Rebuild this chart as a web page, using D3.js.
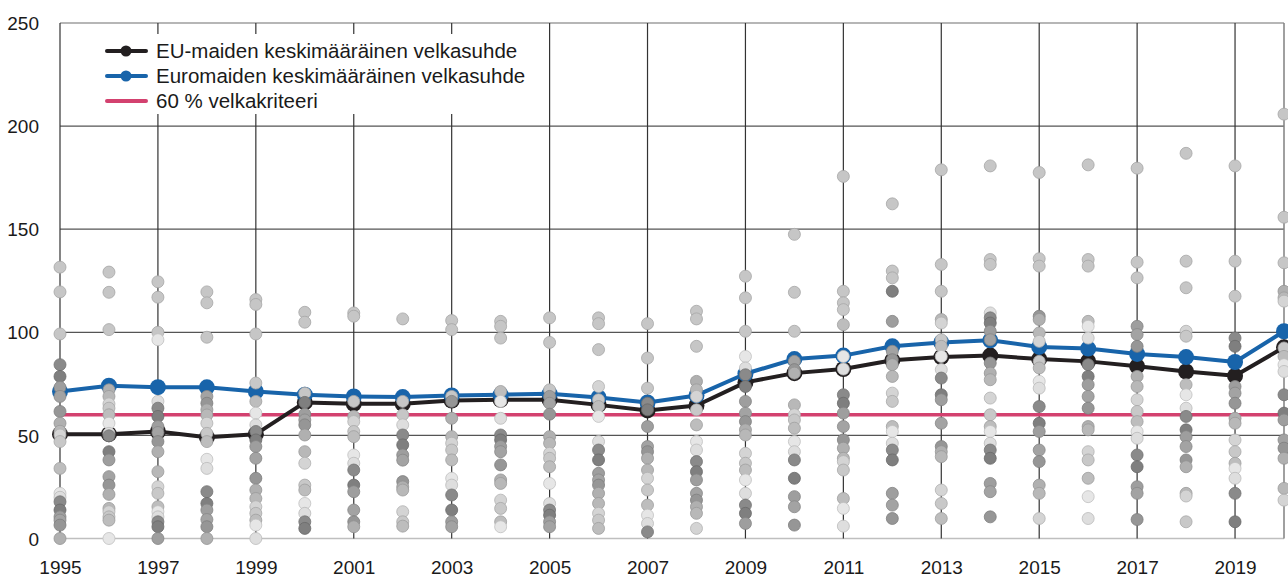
<!DOCTYPE html>
<html>
<head>
<meta charset="utf-8">
<script src="https://cdn.jsdelivr.net/npm/d3@7"></script>
<style>
  body { margin: 0; background: #fff; }
  text { font-family: "Liberation Sans", Arial, sans-serif; fill: #1a1a1a; }
</style>
</head>
<body>
<div id="chart"></div>
<script>
// data
var years = d3.range(1995, 2021);
var tickYears = d3.range(1995, 2020, 2);
var yTicks = [0, 50, 100, 150, 200, 250];
var criterion = 60;

var euAverage = [50.6, 50.6, 51.9, 49.1, 50.6, 66.0, 65.3, 65.3, 66.9, 67.3, 67.3, 64.8, 62.1,
  64.5, 75.7, 80.2, 82.2, 86.4, 88.0, 88.7, 87.0, 85.9, 83.5, 81.0, 78.9, 92.7];
var euroAverage = [71.3, 74.1, 73.4, 73.3, 71.3, 69.7, 68.9, 68.6, 69.4, 69.7, 70.2, 68.4, 66.0,
  69.4, 79.9, 87.0, 88.7, 93.2, 95.1, 96.1, 92.9, 92.1, 89.5, 88.0, 85.6, 100.5];

// single countries, one list per year (same order as years)
var countryDebt = [
  [131.6, 119.6, 99.2, 84.3, 78.6, 73.3, 68.9, 61.6, 55.9, 52, 50.2, 47, 34, 21.9, 20, 17.8, 13.8, 10.5, 8.9, 6.5, 0],
  [129.2, 119.4, 101.3, 72.1, 68.9, 65.3, 63.2, 60, 55.9, 51, 49.8, 42.1, 38.1, 30, 25.9, 21.4, 14.6, 13, 10.5, 8.9, 0],
  [124.5, 117, 100, 96.4, 66.5, 63.2, 59.2, 54.3, 51.4, 47, 42.1, 32.4, 25.1, 21.9, 15.4, 13, 10.5, 8.1, 5.7, 0],
  [119.6, 114.3, 97.6, 68.9, 65.6, 62.4, 59.9, 55.9, 51, 47, 38.4, 34, 22.7, 17, 13.8, 9.2, 5.7, 0],
  [115.9, 113.5, 99.2, 75.4, 66.5, 60.8, 55.1, 51.9, 47.8, 44.6, 38.9, 29.2, 23.5, 19.4, 15.4, 12.2, 8.9, 6.5, 0],
  [109.7, 104.9, 70.5, 66, 60.3, 57.5, 55.1, 50.2, 42.1, 36.5, 25.9, 23.5, 17, 12.2, 8.1, 4.9],
  [109.4, 107.8, 66.5, 59.2, 56.7, 51.9, 49.4, 40.5, 36.5, 33.2, 25.9, 22.7, 13.8, 8.1, 5.7],
  [106.5, 66.5, 60, 55.1, 50.2, 45.4, 40.5, 38, 27.6, 25, 23.5, 13, 8.1, 6],
  [105.7, 101.3, 68.9, 66.5, 58.3, 49.4, 46.2, 42.9, 38.1, 29.2, 25.9, 21.1, 13.8, 8.1, 5.7],
  [105.3, 102.9, 97.2, 71.3, 66.5, 58.3, 50.2, 47.8, 44.6, 42.1, 35.7, 28.4, 26.7, 18.6, 14.6, 8.1, 5.7],
  [107, 95.1, 72.1, 68.9, 65.6, 60.3, 49.4, 46.2, 41.3, 38.9, 34.8, 26.7, 17, 13.8, 11.3, 8.1, 5.7],
  [107, 104.2, 91.6, 73.7, 67.3, 64, 59.2, 47, 42.9, 38.1, 31.6, 28.4, 25.9, 21.9, 17, 12.2, 8.9, 4.9],
  [104.2, 87.5, 72.9, 65.6, 62.4, 54.3, 44.6, 42.1, 38.9, 33.2, 29.2, 23.5, 16.2, 11.3, 7.3, 3.2],
  [110.2, 106.5, 93.2, 76.2, 72.1, 68.9, 62.4, 55.1, 47, 42.9, 37.3, 32.4, 28.4, 21.9, 18.6, 15.4, 12.2, 4.9],
  [127.2, 116.7, 100.5, 88.3, 82.7, 79.4, 73.7, 66.5, 60.8, 56.7, 52.7, 50.2, 41.3, 36.5, 33.2, 28.4, 21.9, 16.2, 12.2, 7.3],
  [147.5, 119.4, 100.5, 85.9, 81.9, 80.2, 64.8, 60, 57.5, 53.5, 47, 42.1, 38.1, 29.2, 20.3, 15.4, 6.5],
  [175.6, 119.9, 114.3, 111, 103.7, 88.3, 82.2, 69.7, 65.6, 60.8, 54.3, 47.8, 43.8, 38.9, 37.3, 33.2, 19.4, 14.6, 6],
  [162.3, 129.7, 126.4, 119.9, 105.3, 90.8, 86.7, 84.3, 78.6, 70.5, 66.5, 54.3, 51.9, 46.2, 42.9, 38.1, 21.9, 16.2, 9.7],
  [178.8, 132.9, 119.9, 106.2, 104.5, 96.4, 93.2, 88.3, 81.9, 77.8, 69.7, 67.3, 55.9, 44.6, 42.1, 39.7, 23.5, 17, 9.7],
  [180.7, 135.3, 132.9, 109.4, 107, 104.5, 100.5, 96.4, 85.1, 80.2, 77, 68.1, 60, 54.3, 51.9, 46.2, 42.9, 38.9, 26.7, 22.7, 10.5],
  [177.5, 135.7, 132.1, 107.8, 106.2, 99.7, 95.6, 85.9, 82.7, 76.2, 72.9, 64, 55.9, 51.9, 42.9, 37.3, 25.9, 21.9, 9.7],
  [181.2, 135.3, 132.1, 105.3, 102.9, 97.2, 84.3, 78.6, 74.6, 68.9, 63.2, 54.3, 52.7, 42.1, 38.1, 29.2, 20.3, 9.7],
  [179.6, 134, 126.4, 102.9, 98.9, 93.2, 78.6, 73.7, 67.3, 61.6, 56.7, 51.9, 48.6, 40.5, 34.8, 25.1, 21.9, 9.2],
  [186.8, 134.5, 121.6, 100.5, 98.1, 74.6, 69.7, 63.2, 59.2, 52.7, 49.4, 44.6, 38.1, 34.8, 21.9, 20.6, 8.1],
  [180.7, 134.5, 117.5, 97.2, 93.2, 73.7, 70.5, 65.6, 58.3, 55.9, 47.8, 42.1, 36.5, 34, 29.2, 21.9, 8.1],
  [205.8, 155.8, 133.7, 119.9, 116.7, 115.1, 92.4, 88.3, 84.3, 81, 69.7, 60.8, 57.5, 47.8, 43.8, 38.9, 24.3, 18.6]
];

var legendItems = ["EU-maiden keskimääräinen velkasuhde", "Euromaiden keskimääräinen velkasuhde", "60 % velkakriteeri"];

// parameters
var width = 1288;
var height = 577;
var black = "#231f20", blue = "#1864aa", red = "#d3416f";
// grey shades for the country dots (top three of each year are light)
var topGrey = "#c6c6c6";
var greys = ["#bdbdbd", "#9e9e9e", "#d4d4d4", "#8a8a8a", "#b0b0b0", "#e6e6e6", "#a3a3a3",
  "#c8c8c8", "#7f7f7f", "#b8b8b8", "#dedede", "#969696"];

var x = d3.scaleLinear().domain([1995, 2020]).range([60, 1284]);
var y = d3.scaleLinear().domain([0, 250]).range([538.5, 23]);

var svg = d3.select("#chart")
      .append("svg")
      .attr("width", width)
      .attr("height", height);

// horizontal grid
svg.append("g").selectAll("line")
  .data(yTicks)
  .enter()
  .append("line")
  .attr("x1", x(1995)).attr("x2", x(2020))
  .attr("y1", function(d) { return y(d); })
  .attr("y2", function(d) { return y(d); })
  .style("stroke", function(d) { return d === 0 ? "#bfbfbf" : (d === 250 ? "#6f6f6f" : "#555"); })
  .style("stroke-width", function(d) { return d === 0 ? 1.5 : 1.2; });

// vertical grid every second year + right border
svg.append("g").selectAll("line")
  .data(tickYears)
  .enter()
  .append("line")
  .attr("x1", function(d) { return x(d); })
  .attr("x2", function(d) { return x(d); })
  .attr("y1", y(0)).attr("y2", y(250))
  .style("stroke", "#333")
  .style("stroke-width", 1.2);

svg.append("line")
  .attr("x1", x(2020)).attr("x2", x(2020))
  .attr("y1", y(0)).attr("y2", y(250))
  .style("stroke", "#808080")
  .style("stroke-width", 1.5);

// axes labels
var yAxis = d3.axisLeft(y).tickValues(yTicks).tickSize(0).tickPadding(0);
var gy = svg.append("g").attr("transform", "translate(39,0)").call(yAxis);
gy.select(".domain").remove();
gy.selectAll("text").style("font-size", "19px").attr("dy", "0.35em");

var xAxis = d3.axisBottom(x).tickValues(tickYears).tickFormat(d3.format("d")).tickSize(0).tickPadding(0);
var gx = svg.append("g").attr("transform", "translate(0,567)").call(xAxis);
gx.select(".domain").remove();
gx.selectAll("text").style("font-size", "19px").attr("y", 0).attr("dy", "0.35em");

// legend background (hides grid behind it)
svg.append("rect")
  .attr("x", 96).attr("y", 34).attr("width", 440).attr("height", 80)
  .style("fill", "#fff");

// 60 % line
svg.append("line")
  .attr("x1", x(1995)).attr("x2", x(2020))
  .attr("y1", y(criterion)).attr("y2", y(criterion))
  .style("stroke", red)
  .style("stroke-width", 3.5);

// average lines
var line = d3.line()
  .x(function(d, i) { return x(years[i]); })
  .y(function(d) { return y(d); });

[[euAverage, black], [euroAverage, blue]].forEach(function(s) {
  svg.append("path")
    .datum(s[0])
    .attr("d", line)
    .attr("fill", "none")
    .style("stroke", s[1])
    .style("stroke-width", 4)
    .style("stroke-linejoin", "round");
  svg.append("g").selectAll("circle")
    .data(s[0])
    .enter()
    .append("circle")
    .attr("cx", function(d, i) { return x(years[i]); })
    .attr("cy", function(d) { return y(d); })
    .attr("r", 8)
    .style("fill", s[1]);
});

// country dots
var dots = [];
countryDebt.forEach(function(vals, i) {
  vals.forEach(function(v, j) {
    var shade = j < 3 ? topGrey : greys[(j * 5 + i) % greys.length];
    dots.push({year: years[i], value: v, shade: shade});
  });
});

svg.append("g").selectAll("circle")
  .data(dots)
  .enter()
  .append("circle")
  .attr("cx", function(d) { return x(d.year); })
  .attr("cy", function(d) { return y(d.value); })
  .attr("r", 6)
  .style("fill", function(d) { return d.shade; })
  .style("stroke", function(d) { return d3.color(d.shade).darker(0.5); })
  .style("stroke-width", 0.8);

// legend
var legend = svg.append("g");
var legendColors = [black, blue, red];
legendItems.forEach(function(t, i) {
  var ly = 51 + i * 25;
  legend.append("line")
    .attr("x1", 107).attr("x2", 146)
    .attr("y1", ly).attr("y2", ly)
    .style("stroke", legendColors[i])
    .style("stroke-width", 4)
    .style("stroke-linecap", "round");
  if (i < 2) {
    legend.append("circle").attr("cx", 126).attr("cy", ly).attr("r", 5.5).style("fill", legendColors[i]);
  }
  legend.append("text")
    .attr("x", 156).attr("y", ly)
    .attr("dy", "0.35em")
    .style("font-size", "20.5px")
    .text(t);
});
</script>
</body>
</html>
